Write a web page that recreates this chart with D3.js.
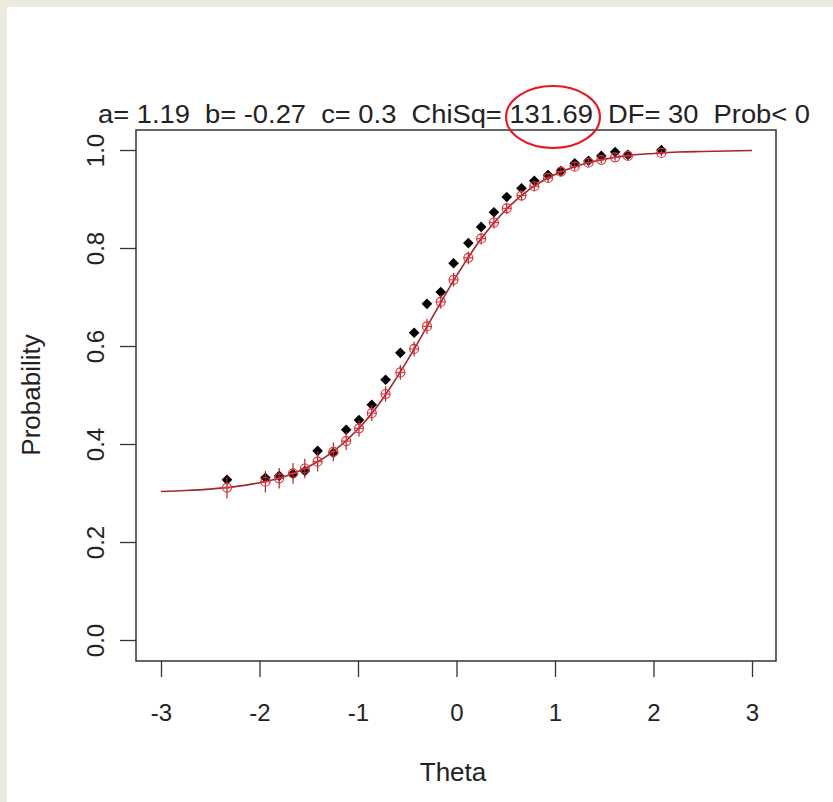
<!DOCTYPE html>
<html>
<head>
<meta charset="utf-8">
<script src="https://cdn.jsdelivr.net/npm/d3@7"></script>
<style>
  html, body { margin: 0; padding: 0; background: #ece9df; }
  svg { display: block; }
  text { font-family: "Liberation Sans", Arial, sans-serif; fill: #222; }
</style>
</head>
<body>
<script>
/* global d3 */

// data

const titleText = "a= 1.19  b= -0.27  c= 0.3  ChiSq= 131.69  DF= 30  Prob< 0"

const xTicks = [-3, -2, -1, 0, 1, 2, 3]
const yTicks = [0, 0.2, 0.4, 0.6, 0.8, 1]

// fitted curve, sampled along theta
const curveTheta = [-3, -2.75, -2.5, -2.25, -2, -1.75, -1.5, -1.25, -1, -0.75, -0.5, -0.25,
  0, 0.25, 0.5, 0.75, 1, 1.25, 1.5, 1.75, 2, 2.25, 2.5, 2.75, 3]
const curveProb = [0.303, 0.305, 0.308, 0.313, 0.321, 0.333, 0.354, 0.385, 0.430, 0.492, 0.570, 0.657,
  0.743, 0.819, 0.878, 0.921, 0.950, 0.969, 0.981, 0.989, 0.993, 0.996, 0.997, 0.998, 0.999]

// groups
const theta = [-2.33, -1.94, -1.80, -1.66, -1.54, -1.41, -1.25, -1.12, -0.99, -0.86,
  -0.72, -0.57, -0.43, -0.30, -0.16, -0.03, 0.12, 0.25, 0.38, 0.51,
  0.66, 0.79, 0.93, 1.06, 1.20, 1.34, 1.47, 1.61, 1.74, 2.08]
const observed = [0.327, 0.331, 0.335, 0.339, 0.345, 0.386, 0.382, 0.429, 0.449, 0.480,
  0.531, 0.586, 0.627, 0.686, 0.710, 0.769, 0.810, 0.843, 0.873, 0.904,
  0.922, 0.937, 0.949, 0.957, 0.973, 0.978, 0.988, 0.996, 0.990, 1.0]
const expected = [0.311, 0.323, 0.330, 0.340, 0.350, 0.364, 0.384, 0.406, 0.432, 0.463,
  0.502, 0.546, 0.594, 0.640, 0.690, 0.735, 0.780, 0.819, 0.852, 0.881,
  0.907, 0.926, 0.943, 0.956, 0.966, 0.974, 0.980, 0.985, 0.988, 0.994]
const errHalf = [0.022, 0.022, 0.021, 0.021, 0.020, 0.020, 0.019, 0.018, 0.017, 0.016,
  0.016, 0.015, 0.015, 0.015, 0.014, 0.014, 0.013, 0.012, 0.012, 0.011,
  0.010, 0.010, 0.009, 0.009, 0.008, 0.008, 0.007, 0.007, 0.006, 0.006]

// layout

const W = 833, H = 802
const box = { left: 136, top: 130, right: 776, bottom: 661 }

const svg = d3.select("body").append("svg")
  .attr("width", W)
  .attr("height", H)

// white panel inside the beige frame
svg.append("rect")
  .attr("x", 7).attr("y", 7)
  .attr("width", W - 7).attr("height", H - 7)
  .attr("fill", "#fff")

const x = d3.scaleLinear().domain([-3, 3]).range([161, 752])
const y = d3.scaleLinear().domain([0, 1]).range([640, 150])

// axes (R style, ticks outside, plain hyphen minus)
const xAxis = svg.append("g")
  .attr("transform", "translate(0," + box.bottom + ")")
  .call(d3.axisBottom(x).tickValues(xTicks).tickSize(16).tickPadding(27)
    .tickFormat(d => String(d)))
xAxis.select(".domain").remove()
xAxis.selectAll("line").attr("stroke", "#333").attr("stroke-width", 1.3)
xAxis.selectAll("text")
  .style("font-size", "24px")
  .attr("fill", "#222")

const yAxis = svg.append("g")
  .attr("transform", "translate(" + box.left + ",0)")
  .call(d3.axisLeft(y).tickValues(yTicks).tickSize(16)
    .tickFormat(d3.format(".1f")))
yAxis.select(".domain").remove()
yAxis.selectAll("line").attr("stroke", "#333").attr("stroke-width", 1.3)
yAxis.selectAll("text")
  .style("font-size", "24px")
  .attr("fill", "#222")
  .attr("x", null).attr("dy", null)
  .attr("text-anchor", "middle")
  .attr("transform", "translate(-32,0) rotate(-90)")

// box
svg.append("rect")
  .attr("x", box.left).attr("y", box.top)
  .attr("width", box.right - box.left).attr("height", box.bottom - box.top)
  .attr("fill", "none")
  .attr("stroke", "#333")
  .attr("stroke-width", 1.5)

// observed: black diamonds
const diamond = d3.symbol().type(d3.symbolDiamond2).size(72)
svg.append("g").selectAll("path")
  .data(theta.map((t, i) => ({ t, p: observed[i] })))
  .enter().append("path")
    .attr("d", diamond)
    .attr("transform", d => "translate(" + x(d.t) + "," + y(d.p) + ")")
    .attr("fill", "#000")

// fitted curve
const line = d3.line()
  .x(d => x(d[0]))
  .y(d => y(d[1]))
  .curve(d3.curveMonotoneX)
svg.append("path")
  .datum(curveTheta.map((t, i) => [t, curveProb[i]]))
  .attr("d", line)
  .attr("fill", "none")
  .attr("stroke", "#a3252e")
  .attr("stroke-width", 1.6)

// expected: red circle-plus with vertical bars
const exp = svg.append("g").selectAll("g")
  .data(theta.map((t, i) => ({ t, p: expected[i], e: errHalf[i] })))
  .enter().append("g")
    .attr("stroke", "#e0333b")
    .attr("stroke-width", 1.2)
    .attr("fill", "none")

exp.append("line")
  .attr("x1", d => x(d.t)).attr("x2", d => x(d.t))
  .attr("y1", d => y(d.p + d.e)).attr("y2", d => y(d.p - d.e))
  .attr("stroke", "#b8242c")

exp.append("circle")
  .attr("cx", d => x(d.t)).attr("cy", d => y(d.p))
  .attr("r", 4.5)

exp.append("line")
  .attr("x1", d => x(d.t) - 4.5).attr("x2", d => x(d.t) + 4.5)
  .attr("y1", d => y(d.p)).attr("y2", d => y(d.p))

// titles
svg.append("text")
  .attr("x", 98).attr("y", 123)
  .style("font-size", "25px")
  .style("white-space", "pre")
  .attr("textLength", 712)
  .attr("lengthAdjust", "spacingAndGlyphs")
  .text(titleText)

svg.append("text")
  .attr("x", 453).attr("y", 781)
  .attr("text-anchor", "middle")
  .style("font-size", "26px")
  .text("Theta")

svg.append("text")
  .attr("transform", "translate(40,395) rotate(-90)")
  .attr("text-anchor", "middle")
  .style("font-size", "26px")
  .text("Probability")

// red highlight round the ChiSq value
svg.append("ellipse")
  .attr("cx", 553).attr("cy", 117)
  .attr("rx", 47).attr("ry", 31)
  .attr("fill", "none")
  .attr("stroke", "#e8151c")
  .attr("stroke-width", 2)
</script>
</body>
</html>
